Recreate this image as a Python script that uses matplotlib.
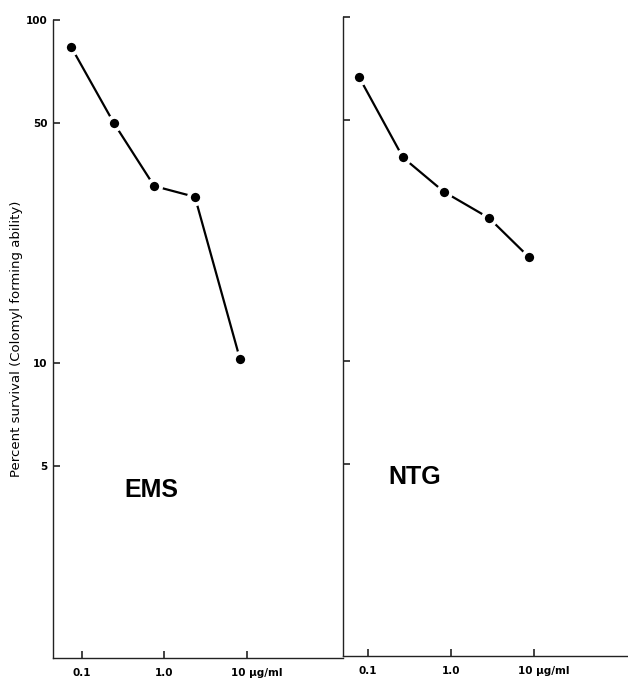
import matplotlib
matplotlib.use("Agg")
import matplotlib.pyplot as plt
import matplotlib.transforms as mtransforms

# Data
ems_dose = [0.074, 0.244, 0.75, 2.34, 8.2]
ems_survival = [83.4, 50.0, 32.8, 30.5, 10.3]
ntg_dose = [0.078, 0.264, 0.82, 2.87, 8.7]
ntg_survival = [66.9, 39.0, 31.0, 26.0, 20.0]

x_ticks = [0.1, 1.0, 10]
x_ticklabels = ["0.1", "1.0", "10 \u00b5g/ml"]
y_ticks = [100, 50, 10, 5]
y_ticklabels = ["100", "50", "10", "5"]
panel_labels = ["EMS", "NTG"]

W, H = 628, 679
fig = plt.figure(figsize=(W / 100, H / 100), dpi=100)

def frac_box(x0, x1, ytop, ybot):
    return [x0 / W, (H - ybot) / H, (x1 - x0) / W, (ybot - ytop) / H]

axL = fig.add_axes(frac_box(53, 343, 20, 658))
axR = fig.add_axes(frac_box(343, 628, 17, 656))

tick_font = dict(fontsize=7.5, fontweight="bold", family="DejaVu Sans")

for ax, xd, yd, lbl, xlim, show_ylabels in [
    (axL, ems_dose, ems_survival, panel_labels[0], (0.0445, 146), True),
    (axR, ntg_dose, ntg_survival, panel_labels[1], (0.05, 136), False),
]:
    ax.set_xscale("log")
    ax.set_yscale("log")
    ax.plot(xd, yd, color="black", lw=1.6, marker="o", ms=9.5,
            markerfacecolor="black", markeredgecolor="white", mew=2.8,
            solid_capstyle="butt", zorder=3)
    ax.set_xlim(*xlim)
    ax.set_ylim(1.38, 100)
    for s in ["top", "right"]:
        ax.spines[s].set_visible(False)
    for s in ["left", "bottom"]:
        ax.spines[s].set_linewidth(1.0)
        ax.spines[s].set_color("#222222")
    ax.minorticks_off()
    ax.set_xticks(x_ticks)
    ax.set_xticklabels(x_ticklabels, **tick_font)
    ax.set_yticks(y_ticks)
    if show_ylabels:
        ax.set_yticklabels(y_ticklabels, **tick_font)
    else:
        ax.set_yticklabels([])
    ax.tick_params(axis="both", direction="in", length=5, width=1.2,
                   color="#222222")
    ax.tick_params(axis="x", pad=7)
    ax.tick_params(axis="y", pad=4)
    last = ax.get_xticklabels()[-1]
    last.set_horizontalalignment("left")
    last.set_transform(last.get_transform() +
                       mtransforms.ScaledTranslation(-16 / 100, 0, fig.dpi_scale_trans))
    ax.patch.set_alpha(0)

axL.set_ylabel("Percent survival (Colomyl forming ability)", fontsize=9.5,
               fontweight="medium", family="DejaVu Sans")
axL.yaxis.set_label_coords(-0.105, 0.5)

fig.text(151 / W, 1 - 490 / H, panel_labels[0], fontsize=18, fontweight="bold",
         family="Liberation Sans", ha="center", va="center")
fig.text(415 / W, 1 - 477 / H, panel_labels[1], fontsize=18, fontweight="bold",
         family="Liberation Sans", ha="center", va="center")

fig.savefig("out.png", dpi=100)
